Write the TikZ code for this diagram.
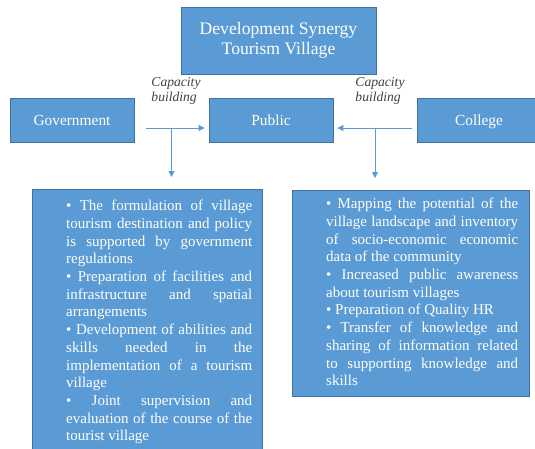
\documentclass[tikz,border=0pt]{standalone}
\usepackage{fontspec}
\setmainfont{Liberation Serif}
\definecolor{boxblue}{RGB}{91, 155, 213}
\definecolor{boxedge}{RGB}{65, 113, 156}
\definecolor{capgray}{RGB}{64, 64, 64}
\usetikzlibrary{shapes, arrows.meta, positioning, calc}

\begin{document}
\begin{tikzpicture}[x=1pt, y=1pt,
  block/.style={draw=boxedge, fill=boxblue, line width=0.8pt, text=white, minimum width=124pt, minimum height=44pt, inner sep=0pt, text height=12pt, text depth=1pt, font={\fontsize{15.4}{18}\selectfont}},
  listbox/.style={draw=boxedge, fill=boxblue, line width=0.8pt, inner sep=0pt, anchor=north west},
  listtext/.style={text=white, text width=#1, align=justify, inner sep=0pt, anchor=north west, font={\fontsize{15}{17.7}\selectfont\tolerance=10000\hyphenpenalty=10000\parindent=0pt}},
  caplabel/.style={text=capgray, align=left, inner sep=0pt, font={\itshape\fontsize{13.6}{15}\selectfont}},
  flow/.style={draw=boxblue, line width=0.9pt, -{Triangle[length=6pt, width=6pt]}}
]
  \useasboundingbox (0,0) rectangle (535,448);

  % top row
  \node[block, minimum width=195pt, minimum height=67pt, text height=, text depth=, align=center, font={\fontsize{17.6}{20.5}\selectfont}] (synergy) at (278.5,407.5) {Development Synergy\\Tourism Village};
  \node[block] (gov) at (72,328) {Government};
  \node[block] (pub) at (271,328) {Public};
  \node[block] (col) at (479,328) {College};

  \node[caplabel] (gcap) at (176,357) {Capacity\\building};
  \node[caplabel] (ccap) at (380,357) {Capacity\\building};

  % lists
  \node[listbox, minimum width=230pt, minimum height=265pt] (govlist) at (32,259) {};
  \node[listtext=186pt] (govtext) at ([xshift=34pt, yshift=-11pt]govlist.north west) {
    \textbullet{} The formulation of village\linebreak tourism destination and policy\linebreak is supported by government\linebreak regulations\par
    \textbullet{} Preparation of facilities and\linebreak infrastructure and spatial\linebreak arrangements\par
    \textbullet{} Development of abilities and\linebreak skills needed in the\linebreak implementation of a tourism\linebreak village\par
    \textbullet{} Joint supervision and\linebreak evaluation of the course of the\linebreak tourist village
  };

  \node[listbox, minimum width=237pt, minimum height=206pt] (collist) at (292,258) {};
  \node[listtext=192pt] (coltext) at ([xshift=34pt, yshift=-8pt]collist.north west) {
    \textbullet{} Mapping the potential of the\linebreak village landscape and inventory\linebreak of socio-economic economic\linebreak data of the community\par
    \textbullet{} Increased public awareness\linebreak about tourism villages\par
    \textbullet{} Preparation of Quality HR\par
    \textbullet{} Transfer of knowledge and\linebreak sharing of information related\linebreak to supporting knowledge and\linebreak skills
  };

  % arrows
  \coordinate (gsplit) at ($(gov.east)!0.5!(pub.west)+(0,-8)$);
  \coordinate (csplit) at ($(pub.east)!0.5!(col.west)+(0,-8)$);
  \draw[flow] ([xshift=12pt, yshift=-8pt]gov.east) -- ([xshift=-4pt, yshift=-8pt]pub.west);
  \draw[flow] (gsplit) -- ([yshift=12pt]gsplit |- govlist.north);
  \draw[flow] ([xshift=-5pt, yshift=-8pt]col.west) -- ([xshift=4pt, yshift=-8pt]pub.east);
  \draw[flow] (csplit) -- ([yshift=12pt]csplit |- collist.north);
\end{tikzpicture}
\end{document}
